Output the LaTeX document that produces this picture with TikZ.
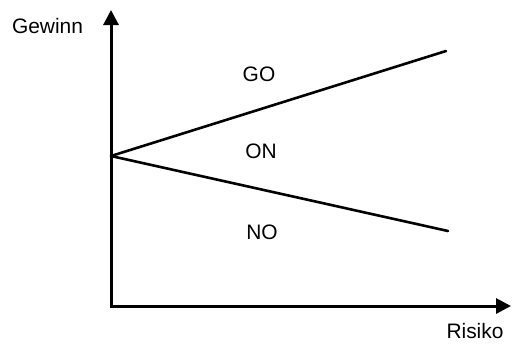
\documentclass[tikz,border=0pt]{standalone}
\usepackage{fontspec}
\setmainfont{Liberation Sans}
\usetikzlibrary{arrows.meta}
\begin{document}
\begin{tikzpicture}[x=1bp,y=-1bp,
  axis/.style={line width=3bp,-{Triangle[length=15bp,width=15bp]}},
  boundary/.style={line width=2.6bp,line cap=round},
  lbl/.style={font=\fontsize{21}{24}\selectfont,inner sep=0pt}]
\useasboundingbox (0,0) rectangle (513,343);
\coordinate (O) at (111,306);
\coordinate (ytip) at (111,10);
\coordinate (xtip) at (511,306);
\coordinate (S) at (111,156);
\coordinate (U) at (446,51);
\coordinate (L) at (448,231);
\draw[axis] ([yshift=1.5bp]O) -- (ytip);
\draw[axis] ([xshift=-1.5bp]O) -- (xtip);
\draw[boundary] (S) -- (U);
\draw[boundary] (S) -- (L);
\node[lbl] (gewinn) at (47.5,26.5) {Gewinn};
\node[lbl] (risiko) at (475,331) {Risiko};
\node[lbl] (go) at (259,74.5) {GO};
\node[lbl] (on) at (261,151) {ON};
\node[lbl] (no) at (262,232.5) {NO};
\end{tikzpicture}
\end{document}
